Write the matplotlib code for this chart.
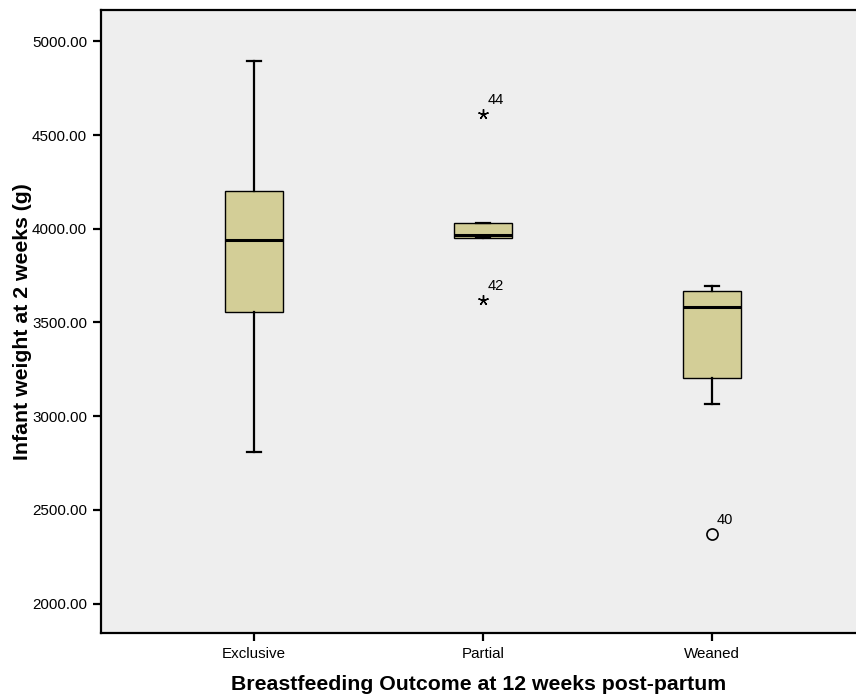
import matplotlib
matplotlib.use('Agg')
import matplotlib.pyplot as plt

plt.rcParams['font.family'] = ['Liberation Sans', 'DejaVu Sans']

# Summary statistics per outcome group (grams)
groups = ['Exclusive', 'Partial', 'Weaned']
q1 = [3557, 3952, 3202]
med = [3940, 3966, 3584]
q3 = [4203, 4032, 3669]
whislo = [2809, 3954, 3066]
whishi = [4895, 4030, 3696]

# Outlying cases: (group index, value, case number, marker)
out_group = [1, 1, 2]
out_value = [4612, 3620, 2371]
out_case = ['44', '42', '40']
out_marker = ['*', '*', 'o']

fig = plt.figure(figsize=(8.56, 6.98), dpi=100)
ax = fig.add_axes([101 / 856, 1 - 633 / 698, 1 - 101 / 856, 623 / 698])
ax.set_facecolor('#eeeeee')

stats = []
for i, g in enumerate(groups):
    stats.append(dict(label=g, q1=q1[i], med=med[i], q3=q3[i],
                      whislo=whislo[i], whishi=whishi[i], fliers=[]))

pos = [1, 2, 3]
ax.bxp(stats, positions=pos, widths=0.253, patch_artist=True, showfliers=False,
       boxprops=dict(facecolor='#d3ce97', edgecolor='black', linewidth=1.0),
       medianprops=dict(color='black', linewidth=2.2),
       whiskerprops=dict(color='black', linewidth=1.6),
       capprops=dict(color='black', linewidth=1.6),
       capwidths=0.064)

for g, v, c, m in zip(out_group, out_value, out_case, out_marker):
    x = pos[g]
    if m == '*':
        # asterisk for extreme cases
        ax.plot(x, v, marker=(5, 2, 0), markersize=7.5, color='black',
                markeredgewidth=1.0, linestyle='none')
    else:
        ax.plot(x, v, marker='o', markersize=8, markerfacecolor='none',
                markeredgecolor='black', markeredgewidth=1.2, linestyle='none')
    ax.text(x + 0.022, v + 35, c, fontsize=10.5, ha='left', va='bottom')

ax.set_xlim(0.332, 3.629)
ax.set_ylim(1843, 5167)
ax.set_yticks([2000, 2500, 3000, 3500, 4000, 4500, 5000])
ax.set_yticklabels(['%.2f' % t for t in ax.get_yticks()])
ax.set_xticks(pos)
ax.set_xticklabels(groups)
ax.tick_params(axis='both', direction='out', length=6, width=1.6,
               labelsize=10.9, pad=4)

for s in ['left', 'bottom', 'top']:
    ax.spines[s].set_linewidth(1.6)
ax.spines['right'].set_visible(False)

ax.set_xlabel('Breastfeeding Outcome at 12 weeks post-partum',
              fontsize=15.3, fontweight='bold', labelpad=10)
ax.set_ylabel('Infant weight at 2 weeks (g)', fontsize=15.3,
              fontweight='bold', labelpad=0)

fig.savefig('out.png', dpi=100)
